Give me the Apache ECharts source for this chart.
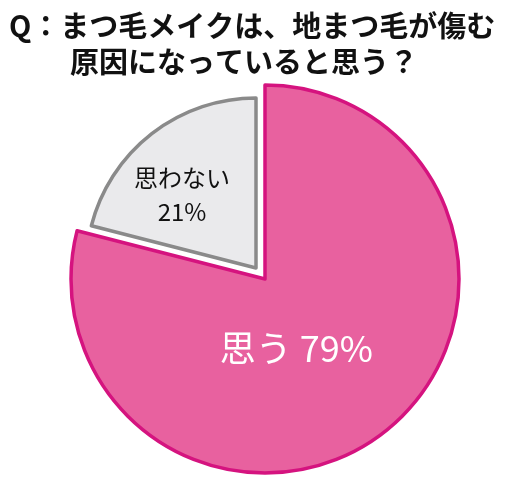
<!DOCTYPE html>
<html>
<head>
<meta charset="utf-8">
<script src="https://cdn.jsdelivr.net/npm/echarts@6/dist/echarts.min.js"></script>
<style>
html,body{margin:0;padding:0;background:#fff;}
#main{width:510px;height:488px;}
</style>
</head>
<body>
<div id="main"></div>
<script>
var titleLines = ['Q：まつ毛メイクは、地まつ毛が傷む', '原因になっていると思う？'];
var sliceNames = ['思う', '思わない'];       // 回答
var sliceValues = [79, 21];                  // 割合(%)

var FONT = '"Noto Sans CJK JP", "Noto Sans", sans-serif';

function buildData(showIdx, style, label){
    var arr = [];
    for (var i = 0; i < sliceNames.length; i++) {
        if (i == showIdx) {
            arr.push({name: sliceNames[i], value: sliceValues[i], itemStyle: style, label: label});
        } else {
            // 空き(透明)
            arr.push({name: sliceNames[i], value: sliceValues[i], itemStyle: {color: 'rgba(0,0,0,0)', borderWidth: 0}, label: {show: false}});
        }
    }
    return arr;
}

var myChart = echarts.init(document.getElementById('main'));
var option = {
    animation: false,
    title: [
        {
            text: titleLines[0],
            left: 4,
            top: 6,
            textStyle: {fontFamily: FONT, fontSize: 29, fontWeight: 'bold', color: '#111'}
        },
        {
            text: titleLines[1],
            left: 65,
            top: 42,
            textStyle: {fontFamily: FONT, fontSize: 29, fontWeight: 'bold', color: '#111'}
        }
    ],
    series: [
        {
            type: 'pie',
            silent: true,
            center: [265, 279],
            radius: [0, 194],
            startAngle: 90,
            labelLine: {show: false},
            data: buildData(0,
                {color: '#E8619F', borderColor: '#D5137F', borderWidth: 3.5},
                {
                    show: true,
                    position: 'inside',
                    offset: [-30, -10],
                    formatter: function(p){ return p.name + ' ' + p.value + '%'; },
                    fontFamily: FONT,
                    fontSize: 36,
                    color: '#fff'
                })
        },
        {
            // 切り出した「思わない」
            type: 'pie',
            silent: true,
            center: [256, 268],
            radius: [0, 170],
            startAngle: 90,
            labelLine: {show: false},
            data: buildData(1,
                {color: '#EAEAEC', borderColor: '#8A8A8A', borderWidth: 3.5},
                {
                    show: true,
                    position: 'inside',
                    offset: [-20, -4],
                    formatter: function(p){ return p.name + '\n' + p.value + '%'; },
                    fontFamily: FONT,
                    fontSize: 24,
                    lineHeight: 34,
                    color: '#111'
                })
        }
    ]
};
myChart.setOption(option);
</script>
</body>
</html>
